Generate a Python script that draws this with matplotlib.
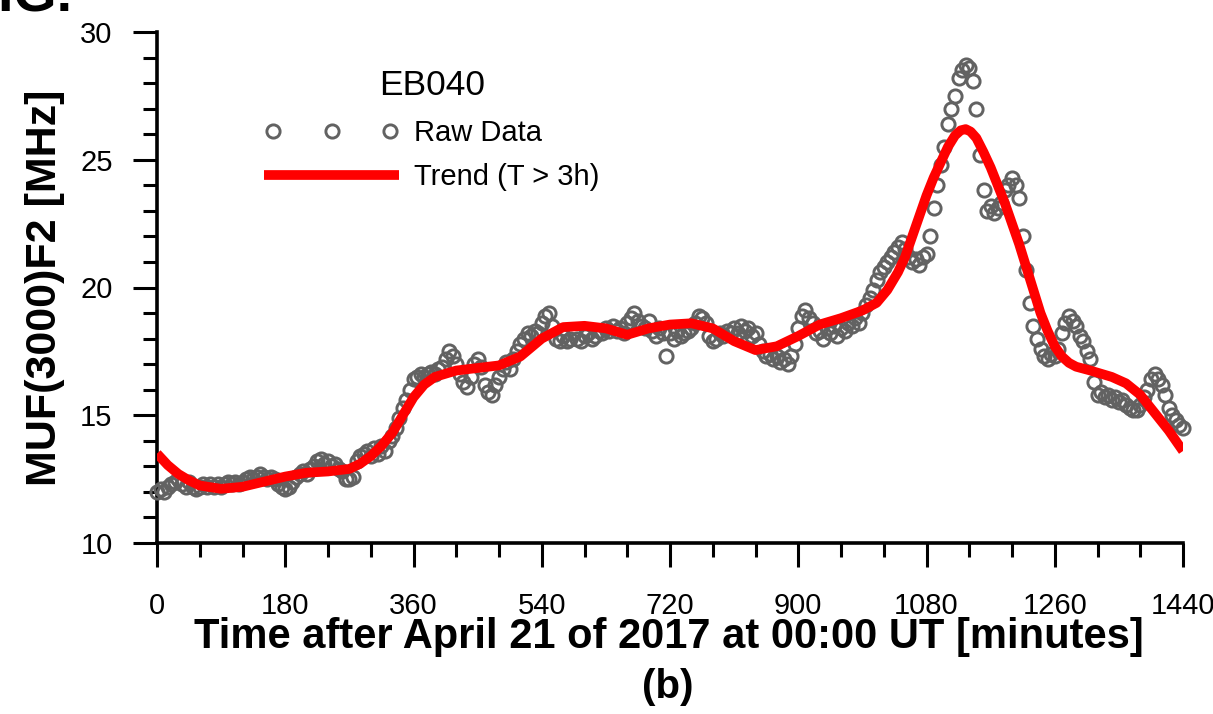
import numpy as np
import matplotlib
matplotlib.use("Agg")
import matplotlib.pyplot as plt
from matplotlib.legend_handler import HandlerLine2D

plt.rcParams['font.family'] = ['Liberation Sans', 'DejaVu Sans']

# raw MUF(3000)F2 readings, one every 5 minutes from 00:00 UT
raw_minutes = np.arange(0, 1445, 5)
raw_muf = [
    12.0, 12.1, 12.0, 12.2, 12.3, 12.4, 12.5, 12.3, 12.2, 12.4, 12.2, 12.1,
    12.2, 12.3, 12.2, 12.3, 12.2, 12.3, 12.2, 12.3, 12.4, 12.3, 12.4, 12.3,
    12.4, 12.5, 12.6, 12.5, 12.6, 12.7, 12.6, 12.5, 12.6, 12.5, 12.3, 12.2,
    12.1, 12.2, 12.4, 12.6, 12.7, 12.8, 12.7, 12.9, 13.0, 13.2, 13.3, 13.1,
    13.2, 13.0, 13.1, 12.9, 12.8, 12.5, 12.5, 12.6, 13.2, 13.4, 13.5, 13.6,
    13.4, 13.7, 13.5, 13.8, 13.6, 14.0, 14.2, 14.5, 14.9, 15.3, 15.6, 16.0,
    16.4, 16.5, 16.6, 16.5, 16.6, 16.7, 16.6, 16.8, 16.9, 17.2, 17.5, 17.3,
    17.0, 16.6, 16.3, 16.1, 16.5, 17.0, 17.2, 16.9, 16.2, 15.9, 15.8, 16.2,
    16.5, 16.8, 17.1, 16.8, 17.2, 17.5, 17.8, 18.0, 18.2, 18.1, 18.3, 18.2,
    18.6, 18.9, 19.0, 18.5, 18.0, 17.9, 18.1, 17.9, 18.0, 18.2, 18.0, 17.9,
    18.1, 18.2, 18.0, 18.1, 18.3, 18.2, 18.4, 18.3, 18.5, 18.3, 18.4, 18.2,
    18.6, 18.8, 19.0, 18.7, 18.5, 18.4, 18.7, 18.3, 18.1, 18.4, 18.2, 17.3,
    18.2, 18.0, 18.3, 18.1, 18.2, 18.3, 18.4, 18.6, 18.9, 18.8, 18.6, 18.1,
    17.9, 18.0, 18.2, 18.1, 18.3, 18.2, 18.4, 18.2, 18.5, 18.3, 18.4, 18.1,
    18.2, 17.8, 17.5, 17.3, 17.4, 17.2, 17.3, 17.1, 17.2, 17.0, 17.3, 17.8,
    18.4, 18.9, 19.1, 18.8, 18.6, 18.2, 18.3, 18.0, 18.4, 18.2, 18.5, 18.1,
    18.4, 18.3, 18.6, 18.5, 18.8, 18.6, 19.0, 19.3, 19.6, 19.9, 20.3, 20.6,
    20.8, 21.0, 21.2, 21.4, 21.6, 21.8, 21.5, 21.2, 21.0, 21.1, 20.9, 21.2,
    21.3, 22.0, 23.1, 24.0, 24.8, 25.5, 26.4, 27.0, 27.5, 28.2, 28.5, 28.7,
    28.6, 28.1, 27.0, 25.2, 23.8, 23.0, 23.2, 22.9, 23.1, 23.3, 23.8, 24.0,
    24.3, 24.0, 23.5, 22.0, 20.7, 19.4, 18.5, 18.0, 17.6, 17.3, 17.2, 17.4,
    17.3, 17.6, 18.2, 18.6, 18.9, 18.7, 18.5, 18.1, 17.9, 17.5, 17.2, 16.3,
    15.8, 15.9, 15.7, 15.8, 15.6, 15.7, 15.5, 15.6, 15.4, 15.3, 15.2, 15.2,
    15.4, 15.7, 16.0, 16.4, 16.6, 16.4, 16.2, 15.8, 15.3, 15.0, 14.8, 14.6,
    14.5,
]

# trend component (periods > 3h)
trend_minutes = [0, 15, 30, 45, 60, 90, 120, 150, 180, 210, 240, 270, 285,
                 300, 315, 330, 345, 360, 375, 390, 420, 450, 480, 510, 540,
                 570, 600, 630, 660, 690, 720, 750, 780, 810, 840, 870, 900,
                 930, 960, 990, 1010, 1025, 1040, 1050, 1060, 1070, 1080,
                 1090, 1100, 1110, 1120, 1128, 1135, 1142, 1150, 1160, 1170,
                 1180, 1190, 1200, 1210, 1220, 1230, 1240, 1250, 1260, 1270,
                 1280, 1290, 1310, 1340, 1360, 1380, 1400, 1420, 1440]
trend_muf = [13.5, 13.05, 12.7, 12.45, 12.25, 12.12, 12.2, 12.4, 12.6, 12.75,
             12.8, 12.9, 13.1, 13.4, 13.8, 14.3, 15.0, 15.7, 16.2, 16.5,
             16.75, 16.85, 16.95, 17.3, 18.0, 18.45, 18.5, 18.4, 18.15, 18.4,
             18.55, 18.6, 18.4, 17.9, 17.55, 17.7, 18.1, 18.55, 18.8, 19.1,
             19.4, 19.9, 20.6, 21.2, 22.0, 22.8, 23.6, 24.3, 24.9, 25.5,
             25.95, 26.15, 26.2, 26.1, 25.85, 25.3, 24.7, 24.0, 23.3, 22.5,
             21.7, 20.8, 19.9, 19.0, 18.3, 17.7, 17.3, 17.05, 16.9, 16.75,
             16.5, 16.25, 15.8, 15.1, 14.4, 13.6]

x_ticks = [0, 180, 360, 540, 720, 900, 1080, 1260, 1440]
y_ticks = [10, 15, 20, 25, 30]

fig = plt.figure(figsize=(12.13, 7.14), dpi=100)
ax = fig.add_axes([157/1213, 1 - 543/714, (1183-157)/1213, (543-32)/714])

ax.plot(raw_minutes, raw_muf, linestyle='none', marker='o', markersize=9.5,
        markerfacecolor='none', markeredgecolor='#626262', markeredgewidth=2.1,
        label='Raw Data', clip_on=False, zorder=3)
trend, = ax.plot(trend_minutes, trend_muf, color='#ff0000', linewidth=7,
                 label='Trend (T > 3h)', solid_capstyle='butt', zorder=4)

ax.set_xlim(0, 1440)
ax.set_ylim(10, 30)
ax.set_xticks(x_ticks)
ax.set_xticks(np.arange(0, 1441, 60), minor=True)
ax.set_yticks(y_ticks)
ax.set_yticks(np.arange(10, 31, 1), minor=True)
ax.tick_params(which='major', direction='out', length=17, width=2.2,
               labelsize=21, pad=15)
ax.tick_params(which='minor', direction='out', length=10, width=2.2)
ax.tick_params(axis='x', which='major', pad=18)

for side in ['top', 'right']:
    ax.spines[side].set_visible(False)
for side in ['left', 'bottom']:
    ax.spines[side].set_linewidth(2.6)

leg = ax.legend(loc='upper left', bbox_to_anchor=(0.079, 0.978), frameon=False,
                numpoints=3, handlelength=4.62, fontsize=21, labelspacing=0.56,
                title='EB040', title_fontsize=25.5, handletextpad=0.5,
                handler_map={trend: HandlerLine2D(marker_pad=0)})

fig.text(45/1213, 1 - 288/714, 'MUF(3000)F2 [MHz]', rotation=90,
         ha='center', va='center', fontsize=31, fontweight='bold')
fig.text(669/1213, 1 - 637/714, 'Time after April 21 of 2017 at 00:00 UT [minutes]',
         ha='center', va='center', fontsize=30, fontweight='bold')
fig.text(668/1213, 1 - 687/714, '(b)', ha='center', va='center',
         fontsize=29, fontweight='bold')
fig.text(72/1213, 1 - 12/714, 'FIG.', ha='right', va='baseline',
         fontsize=40, fontweight='bold')

fig.savefig('out.png', dpi=100)
